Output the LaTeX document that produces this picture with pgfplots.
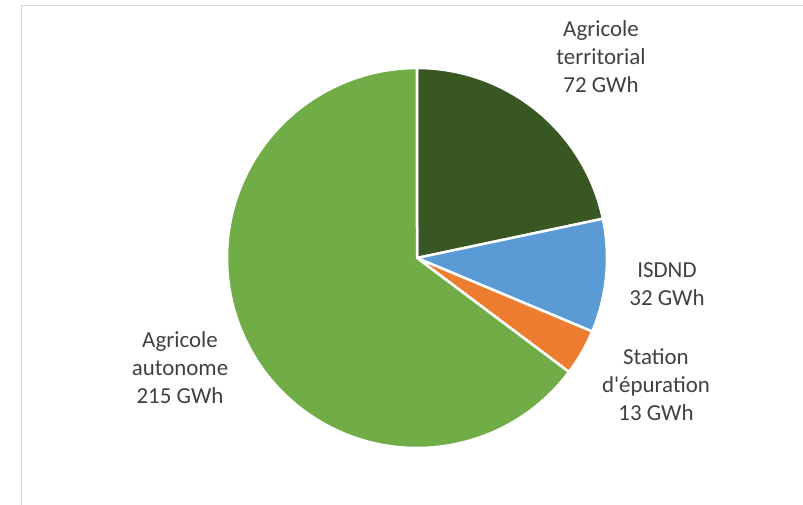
\documentclass[border=0pt]{standalone}
\usepackage{pgfplots}
\usepackage{pgfplotstable}
\usepackage{fontspec}
\setmainfont{Carlito}[Ligatures=TeXOff]
\pgfplotsset{compat=1.18}
\definecolor{cTerr}{RGB}{56,87,35}
\definecolor{cIsd}{RGB}{91,155,213}
\definecolor{cSta}{RGB}{237,125,49}
\definecolor{cAuto}{RGB}{112,173,71}
\definecolor{txt}{RGB}{64,64,64}
\definecolor{frame}{RGB}{217,217,217}
\pgfplotstableread{
name value
territorial 72
ISDND 32
station 13
autonome 215
}\piedata
\pgfplotstablegetelem{0}{value}\of\piedata \let\vA\pgfplotsretval
\pgfplotstablegetelem{1}{value}\of\piedata \let\vB\pgfplotsretval
\pgfplotstablegetelem{2}{value}\of\piedata \let\vC\pgfplotsretval
\pgfplotstablegetelem{3}{value}\of\piedata \let\vD\pgfplotsretval
\pgfmathsetmacro{\tot}{\vA+\vB+\vC+\vD}
\pgfmathsetmacro{\aA}{90}
\pgfmathsetmacro{\aB}{\aA-\vA/\tot*360}
\pgfmathsetmacro{\aC}{\aB-\vB/\tot*360}
\pgfmathsetmacro{\aD}{\aC-\vC/\tot*360}
\pgfmathsetmacro{\aE}{\aD-\vD/\tot*360}
\begin{document}
\begin{tikzpicture}
\begin{axis}[
  x=1bp, y=1bp,
  xmin=0, xmax=803, ymin=0, ymax=505,
  hide axis, clip=true,
]
\path (axis cs:0,0) rectangle (axis cs:803,505);
\draw[frame, line width=1.5bp] (axis cs:21.5,-10) -- (axis cs:21.5,499.5) -- (axis cs:820,499.5);
\def\R{190bp}
\fill[cTerr, draw=white, line width=2.5bp, line join=round] (axis cs:417,247) -- ++(\aA:\R) arc[start angle=\aA, end angle=\aB, radius=\R] -- cycle;
\fill[cIsd, draw=white, line width=2.5bp, line join=round] (axis cs:417,247) -- ++(\aB:\R) arc[start angle=\aB, end angle=\aC, radius=\R] -- cycle;
\fill[cSta, draw=white, line width=2.5bp, line join=round] (axis cs:417,247) -- ++(\aC:\R) arc[start angle=\aC, end angle=\aD, radius=\R] -- cycle;
\fill[cAuto, draw=white, line width=2.5bp, line join=round] (axis cs:417,247) -- ++(\aD:\R) arc[start angle=\aD, end angle=\aE, radius=\R] -- cycle;
\tikzset{lab/.style={align=center, text=txt, font=\fontsize{23}{28}\selectfont, inner sep=0pt}}
\node[lab] at (axis cs:601,448) {Agricole\\territorial\\72 GWh};
\node[lab] at (axis cs:667,221) {ISDND\\32 GWh};
\node[lab] at (axis cs:656,120) {Station\\d'épuration\\13 GWh};
\node[lab] at (axis cs:180,137) {Agricole\\autonome\\215 GWh};
\end{axis}
\end{tikzpicture}
\end{document}
